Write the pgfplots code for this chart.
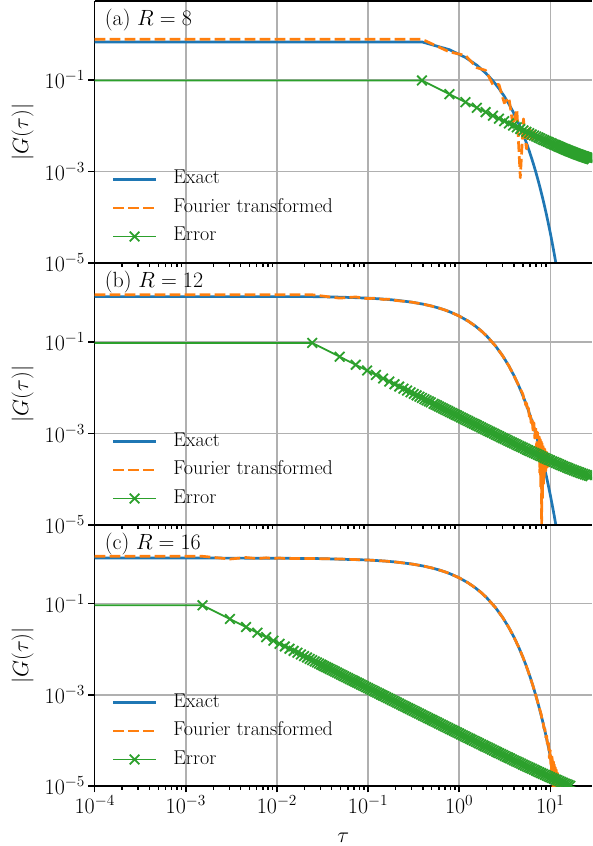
\RequirePackage{fix-cm}
\documentclass[border=0pt]{standalone}
\usepackage{pgfplots}
\pgfplotsset{compat=1.18}

\definecolor{tabblue}{HTML}{1F77B4}
\definecolor{taborange}{HTML}{FF7F0E}
\definecolor{tabgreen}{HTML}{2CA02C}
\definecolor{gridgray}{HTML}{B0B0B0}

\newcommand{\mainsize}{\fontsize{22}{26}\selectfont}
\newcommand{\legsize}{\fontsize{20}{24}\selectfont}

\pgfplotsset{
  every axis/.append style={
    scale only axis,
    width=497.3pt,
    xmin=1e-4, xmax=28.7,
    ymin=1e-5, ymax=5.3,
    xtick={1e-4,1e-3,1e-2,1e-1,1,10},
    ytick={1e-5,1e-3,1e-1},
    yminorticks=false,
    tick align=outside,
    major tick length=6.3pt,
    minor tick length=3.6pt,
    grid=major,
    ylabel={$|G(\tau)|$},
  },
  every tick/.append style={black, line width=1.4pt},
  every axis y label/.append style={font=\mainsize},
  every axis x label/.append style={font=\mainsize},
  every tick label/.append style={font=\mainsize},
  every major grid/.append style={gridgray, line width=1.4pt},
  every inner x axis line/.append style={line width=1.4pt},
  every outer x axis line/.append style={line width=1.4pt},
  every inner y axis line/.append style={line width=1.4pt},
  every outer y axis line/.append style={line width=1.4pt},
  every axis legend/.append style={draw=none, fill=none, font=\legsize,
      at={(0,0)}, anchor=south west,
      xshift=17pt, yshift=17pt,
      inner sep=0pt, outer sep=0pt, row sep=9.5pt, column sep=16pt,
      nodes={inner sep=0pt, text height=14pt, text depth=5pt},
      cells={anchor=west}},
  legend image code/.code={%
    \draw[#1, mark repeat=2, mark phase=2]
      plot coordinates {(0pt,0pt) (21.5pt,0pt) (43pt,0pt)};%
  },
}

\tikzset{
  exact/.style={color=tabblue, line width=2.7pt, mark=none, line join=round},
  fourier/.style={color=taborange, line width=2.7pt, mark=none, line join=round,
    dash pattern=on 10.7pt off 4.3pt},
  errline/.style={color=tabgreen, line width=1.8pt, mark=x, mark size=6.8pt,
    mark phase=2, mark options={solid, line width=1.8pt, mark size=6.8pt}},
  plabel/.style={anchor=north west, inner sep=0pt, font=\mainsize,
    xshift=10pt, yshift=-8pt},
}

\begin{document}
\begin{tikzpicture}
\useasboundingbox (-94.7pt,-60pt) rectangle (497.3pt,786pt);

% ---------------- (a) R = 8 ----------------
\begin{axis}[xmode=log, ymode=log, height=262pt, at={(0pt,523pt)},
  axis x line*=box, axis y line*=left, xtick pos=left, ytick pos=left,
  clip marker paths=true, xticklabels={},
  ylabel style={at={(-0.145,0.5)}, anchor=center}]
\addplot[exact] table {
0.0001 0.6766
0.390625 0.6766
0.78125 0.4578
1.171875 0.3097
1.5625 0.2096
1.953125 0.1418
2.34375 0.09596
2.734375 0.06492
3.125 0.04393
3.515625 0.02972
3.90625 0.02011
4.296875 0.01361
4.6875 0.009207
5.078125 0.006229
5.46875 0.004215
5.859375 0.002852
6.25 0.001930
6.640625 0.001306
7.03125 0.0008834
7.421875 0.0005977
7.8125 0.0004044
8.203125 0.0002736
8.59375 0.0001851
8.984375 0.0001253
9.375 0.00008476
9.765625 0.00005735
10.15625 0.00003880
10.546875 0.00002625
10.9375 0.00001776
11.328125 0.00001202
11.71875 0.000008132
12.109375 0.000005502
};
\addlegendentry{Exact}
\addplot[fourier] table {
0.0001 0.7740
0.390625 0.7740
0.78125 0.4089
1.171875 0.3424
1.5625 0.1850
1.953125 0.1616
2.34375 0.07941
2.734375 0.07917
3.125 0.03141
3.515625 0.04089
3.90625 0.01002
4.296875 0.02282
4.6875 0.000726
5.078125 0.01409
5.46875 0.003114
5.859375 0.009721
6.25 0.004537
6.640625 0.007418
7.03125 0.004913
7.421875 0.006113
7.8125 0.004857
8.203125 0.005306
8.59375 0.004639
8.984375 0.004759
9.375 0.004375
9.765625 0.004357
10.15625 0.004114
};
\addlegendentry{Fourier transformed}
\addplot[errline, mark size=6.8pt] table {
0.0001 0.09738
0.390625 0.09738
0.78125 0.04888
1.171875 0.03272
1.5625 0.02463
1.953125 0.01979
2.34375 0.01655
2.734375 0.01425
3.125 0.01252
3.515625 0.01117
3.90625 0.01009
4.296875 0.009214
4.6875 0.008481
5.078125 0.007861
5.46875 0.007329
5.859375 0.006869
6.25 0.006467
6.640625 0.006112
7.03125 0.005796
7.421875 0.005515
7.8125 0.005261
8.203125 0.005032
8.59375 0.004824
8.984375 0.004634
9.375 0.004460
9.765625 0.004300
10.15625 0.004153
10.546875 0.004016
10.9375 0.003890
11.328125 0.003772
11.71875 0.003663
12.109375 0.003560
12.5 0.003464
12.890625 0.003374
13.28125 0.003290
13.671875 0.003210
14.0625 0.003135
14.453125 0.003065
14.84375 0.002998
15.234375 0.002934
15.625 0.002874
16.015625 0.002817
16.40625 0.002763
16.796875 0.002711
17.1875 0.002662
17.578125 0.002615
17.96875 0.002571
18.359375 0.002528
18.75 0.002487
19.140625 0.002448
19.53125 0.002411
19.921875 0.002375
20.3125 0.002341
20.703125 0.002308
21.09375 0.002276
21.484375 0.002246
21.875 0.002217
22.265625 0.002189
22.65625 0.002162
23.046875 0.002136
23.4375 0.002112
23.828125 0.002088
24.21875 0.002065
24.609375 0.002042
25 0.002021
25.390625 0.002000
25.78125 0.001980
26.171875 0.001961
26.5625 0.001942
26.953125 0.001925
27.34375 0.001907
27.734375 0.001891
28.125 0.001874
28.515625 0.001859
28.90625 0.001844
29.296875 0.001829
};
\addlegendentry{Error}
\node[plabel] at (rel axis cs:0,1) {(a) $R=8$};
\end{axis}

% ---------------- (b) R = 12 ----------------
\begin{axis}[xmode=log, ymode=log, height=262pt, at={(0pt,261pt)},
  axis x line*=box, axis y line*=left, xtick pos=left, ytick pos=left,
  clip marker paths=true, xticklabels={},
  ylabel style={at={(-0.145,0.5)}, anchor=center}]
\addplot[exact] table {
0.0001 0.9759
0.024414 0.9759
0.05 0.95123
0.1 0.90484
0.15 0.86071
0.2 0.81873
0.3 0.74082
0.4 0.67032
0.5 0.60653
0.6 0.54881
0.7 0.49659
0.8 0.44933
1.0 0.36788
1.25 0.28650
1.5 0.22313
1.75 0.17377
2.0 0.13534
2.5 0.082085
3.0 0.049787
3.5 0.030197
4.0 0.018316
4.5 0.011109
5.0 0.0067379
5.5 0.0040868
6.0 0.0024788
6.5 0.0015034
7.0 0.00091188
7.5 0.00055308
8.0 0.00033546
8.5 0.00020347
9.0 0.00012341
9.5 0.000074852
10.0 0.0000454
10.5 0.000027536
11.0 0.000016702
11.5 0.00001013
12.0 0.0000061442
12.5 0.0000037267
};
\addlegendentry{Exact}
\addplot[fourier] table {
0.0001 1.0709
0.024414 1.0709
0.048828 0.9048
0.073242 0.9611
0.097656 0.8832
0.12207 0.9041
0.146484 0.8479
0.170898 0.8565
0.195313 0.8107
0.3 0.74082
0.4 0.67032
0.5 0.60653
0.6 0.54881
0.7 0.49659
0.8 0.44933
1.0 0.36788
1.25 0.28650
1.5 0.22313
1.75 0.17377
2.0 0.13534
2.5 0.082085
3.0 0.049787
3.5 0.030197
4.0 0.018316
4.5 0.011109
5.0119 0.007145
5.1286 0.005448
5.2481 0.005723
5.3703 0.004197
5.4954 0.004552
5.6234 0.003175
5.7544 0.003597
5.8884 0.002353
6.0256 0.002826
6.1660 0.001699
6.3096 0.002211
6.4565 0.001186
6.6069 0.001727
6.7608 0.000790
6.9183 0.001350
7.0795 0.0004896
7.2444 0.0010593
7.4131 0.0002654
7.5858 0.0008385
7.6736 0.0001375
7.7625 0.0007494
7.8524 0.0000682
7.9433 0.0006722
8.0355 0.0000099
8.1283 0.0006057
8.2224 0.0000388
8.3176 0.0005484
8.4140 0.0000793
8.5114 0.000499
8.6099 0.0001124
8.7096 0.0004567
8.9125 0.0001509
9.1201 0.0003892
9.3325 0.0001855
9.5499 0.0003397
9.7724 0.000206
10 0.0003031
};
\addlegendentry{Fourier transformed}
\addplot[errline, mark size=6.8pt] table {
0.0001 0.09502
0.024414 0.09502
0.048828 0.04752
0.073242 0.03169
0.097656 0.02377
0.12207 0.01902
0.146484 0.01586
0.170898 0.01359
0.195313 0.01190
0.219727 0.01058
0.244141 0.009523
0.268555 0.008659
0.292969 0.007940
0.317383 0.007331
0.341797 0.006809
0.366211 0.006356
0.390625 0.005961
0.415039 0.005611
0.439453 0.005301
0.463867 0.005023
0.488281 0.004773
0.52481 0.004443
0.54954 0.004244
0.57544 0.004054
0.60256 0.003872
0.63096 0.003699
0.66069 0.003534
0.69183 0.003376
0.72444 0.003225
0.75858 0.003081
0.79433 0.002943
0.83176 0.002812
0.87096 0.002686
0.91201 0.002567
0.95499 0.002452
1 0.002343
1.0471 0.002238
1.0965 0.002139
1.1482 0.002044
1.2023 0.001953
1.2589 0.001866
1.3183 0.001783
1.3804 0.001704
1.4454 0.001628
1.5136 0.001556
1.5849 0.001487
1.6596 0.001421
1.7378 0.001358
1.8197 0.001298
1.9055 0.001241
1.9953 0.001186
2.0893 0.001134
2.1878 0.001084
2.2909 0.001036
2.3988 0.0009907
2.5119 0.0009470
2.6303 0.0009056
2.7542 0.0008659
2.8840 0.0008281
3.0200 0.0007919
3.1623 0.0007574
3.3113 0.0007244
3.4674 0.0006929
3.6308 0.0006629
3.8019 0.0006341
3.9811 0.0006068
4.1687 0.0005806
4.3652 0.0005556
4.5709 0.0005317
4.7863 0.0005090
5.0119 0.0004872
5.2481 0.0004664
5.4954 0.0004465
5.7544 0.0004277
6.0256 0.0004096
6.3096 0.0003924
6.6069 0.0003759
6.9183 0.0003601
7.2444 0.0003452
7.5858 0.0003309
7.9433 0.0003172
8.3176 0.0003042
8.7096 0.0002917
9.1201 0.0002798
9.5499 0.0002685
10 0.0002577
10.471 0.0002474
10.965 0.0002376
11.482 0.0002282
12.023 0.0002193
12.589 0.0002108
13.183 0.0002027
13.804 0.0001949
14.454 0.0001876
15.136 0.0001806
15.849 0.0001739
16.596 0.0001676
17.378 0.0001615
18.197 0.0001558
19.055 0.0001504
19.953 0.0001452
20.893 0.0001403
21.878 0.0001357
22.909 0.0001313
23.988 0.0001272
25.119 0.0001233
26.303 0.0001197
27.542 0.0001162
28.840 0.0001130
30.200 0.0001100
};
\addlegendentry{Error}
\node[plabel] at (rel axis cs:0,1) {(b) $R=12$};
\end{axis}

% ---------------- (c) R = 16 ----------------
\begin{axis}[xmode=log, ymode=log, height=261pt, at={(0pt,0pt)},
  axis x line*=box, axis y line*=left, xtick pos=left, ytick pos=left,
  clip marker paths=true,
  ylabel style={at={(-0.145,0.5)}, anchor=center},
  xlabel={$\tau$},
  xlabel style={at={(0.5,-0.197)}, anchor=center}]
\addplot[exact] table {
0.0001 0.99848
0.0015259 0.99848
0.01 0.99005
0.03 0.97045
0.1 0.90484
0.15 0.86071
0.2 0.81873
0.3 0.74082
0.4 0.67032
0.5 0.60653
0.6 0.54881
0.7 0.49659
0.8 0.44933
1.0 0.36788
1.25 0.28650
1.5 0.22313
1.75 0.17377
2.0 0.13534
2.5 0.082085
3.0 0.049787
3.5 0.030197
4.0 0.018316
4.5 0.011109
5.0 0.0067379
5.5 0.0040868
6.0 0.0024788
6.5 0.0015034
7.0 0.00091188
7.5 0.00055308
8.0 0.00033546
8.5 0.00020347
9.0 0.00012341
9.5 0.000074852
10.0 0.0000454
10.5 0.000027536
11.0 0.000016702
11.5 0.00001013
12.0 0.0000061442
12.5 0.0000037267
};
\addlegendentry{Exact}
\addplot[fourier] table {
0.0001 1.0905
0.0015259 1.0905
0.0030518 0.9510
0.0045776 1.0261
0.0061035 0.9709
0.0076294 1.0108
0.0091553 0.9756
0.010681 1.0025
0.012207 0.9764
0.02 0.98020
0.05 0.95123
0.1 0.90484
0.15 0.86071
0.2 0.81873
0.3 0.74082
0.4 0.67032
0.5 0.60653
0.6 0.54881
0.7 0.49659
0.8 0.44933
1.0 0.36788
1.25 0.28650
1.5 0.22313
1.75 0.17377
2.0 0.13534
2.5 0.082085
3.0 0.049787
3.5 0.030197
4.0 0.018316
4.5 0.011109
5.0 0.0067379
5.5 0.0040868
6.0 0.0024788
6.5 0.0015034
7.0 0.00091188
7.5 0.00055308
7.9433 0.0003742
8.1283 0.0002763
8.3176 0.0002626
8.5114 0.0001832
8.7096 0.0001827
8.9125 0.0001174
9.1201 0.0001263
9.3325 0.0000719
9.5499 0.0000875
9.7724 0.0000411
10 0.000061
10.2329 0.00002069
10.4713 0.00004331
10.7152 0.00000753
10.8393 0.00003413
10.9648 0.00000292
11.0917 0.00002948
11.2202 0.00000069
11.3501 0.00002572
11.4815 0.00000349
11.6145 0.00002271
11.7490 0.00000564
12.0226 0.00001928
12.3027 0.00000847
12.5893 0.00001617
12.8825 0.00000997
13.1826 0.00001415
};
\addlegendentry{Fourier transformed}
\addplot[errline, mark size=6.8pt] table {
0.0001 0.092
0.0015259 0.09200
0.0030518 0.04600
0.0045776 0.03067
0.0061035 0.02300
0.0076294 0.01840
0.0091553 0.01533
0.010681 0.01314
0.012207 0.01150
0.013733 0.01022
0.015259 0.009200
0.016785 0.008364
0.018311 0.007667
0.019836 0.007077
0.021362 0.006571
0.022888 0.006133
0.024414 0.005750
0.025940 0.005412
0.027466 0.005111
0.028992 0.004842
0.030518 0.004600
0.031623 0.004439
0.033113 0.004239
0.034674 0.004049
0.036308 0.003866
0.038019 0.003692
0.039811 0.003526
0.041687 0.003367
0.043652 0.003216
0.045709 0.003071
0.047863 0.002933
0.050119 0.002801
0.052481 0.002675
0.054954 0.002554
0.057544 0.002440
0.060256 0.002330
0.063096 0.002225
0.066069 0.002125
0.069183 0.002029
0.072444 0.001938
0.075858 0.001851
0.079433 0.001767
0.083176 0.001688
0.087096 0.001612
0.091201 0.001539
0.095499 0.001470
0.1 0.001405
0.10471 0.001342
0.10965 0.001282
0.11482 0.001224
0.12023 0.001169
0.12589 0.001117
0.13183 0.001066
0.13804 0.001018
0.14454 0.0009726
0.15136 0.0009289
0.15849 0.0008871
0.16596 0.0008473
0.17378 0.0008092
0.18197 0.0007728
0.19055 0.0007381
0.19953 0.0007050
0.20893 0.0006733
0.21878 0.0006431
0.22909 0.0006142
0.23988 0.0005866
0.25119 0.0005603
0.26303 0.0005351
0.27542 0.0005111
0.28840 0.0004882
0.30200 0.0004662
0.31623 0.0004453
0.33113 0.0004253
0.34674 0.0004063
0.36308 0.0003880
0.38019 0.0003706
0.39811 0.0003540
0.41687 0.0003381
0.43652 0.0003230
0.45709 0.0003085
0.47863 0.0002947
0.50119 0.0002815
0.52481 0.0002689
0.54954 0.0002569
0.57544 0.0002454
0.60256 0.0002344
0.63096 0.0002239
0.66069 0.0002139
0.69183 0.0002043
0.72444 0.0001952
0.75858 0.0001865
0.79433 0.0001781
0.83176 0.0001702
0.87096 0.0001626
0.91201 0.0001554
0.95499 0.0001484
1 0.0001418
1.0471 0.0001355
1.0965 0.0001295
1.1482 0.0001237
1.2023 0.0001182
1.2589 0.0001129
1.3183 0.0001079
1.3804 0.0001031
1.4454 0.00009854
1.5136 0.00009418
1.5849 0.00009000
1.6596 0.00008601
1.7378 0.00008220
1.8197 0.00007856
1.9055 0.00007511
1.9953 0.00007178
2.0893 0.00006864
2.1878 0.00006561
2.2909 0.00006271
2.3988 0.00005996
2.5119 0.00005732
2.6303 0.00005481
2.7542 0.00005241
2.8840 0.00005012
3.0200 0.00004793
3.1623 0.00004584
3.3113 0.00004385
3.4674 0.00004194
3.6308 0.00004012
3.8019 0.00003838
3.9811 0.00003673
4.1687 0.00003514
4.3652 0.00003363
4.5709 0.00003218
4.7863 0.00003081
5.0119 0.00002949
5.2481 0.00002823
5.4954 0.00002703
5.7544 0.00002589
6.0256 0.00002479
6.3096 0.00002375
6.6069 0.00002275
6.9183 0.00002180
7.2444 0.00002089
7.5858 0.00002003
7.9433 0.00001920
8.3176 0.00001841
8.7096 0.00001766
9.1201 0.00001694
9.5499 0.00001625
10 0.00001560
10.471 0.00001497
10.965 0.00001438
11.482 0.00001381
12.023 0.00001327
12.589 0.00001276
13.183 0.00001227
13.804 0.00001180
14.454 0.00001135
15.136 0.00001093
15.849 0.00001053
16.596 0.00001014
17.378 0.000009775
18.197 0.000009430
19.055 0.000009103
19.953 0.000008789
20.893 0.000008492
21.878 0.000008214
22.909 0.000007947
23.988 0.000007699
25.119 0.000007463
26.303 0.000007245
27.542 0.000007033
28.840 0.000006840
30.200 0.000006658
};
\addlegendentry{Error}
\node[plabel] at (rel axis cs:0,1) {(c) $R=16$};
\end{axis}
\end{tikzpicture}
\end{document}
